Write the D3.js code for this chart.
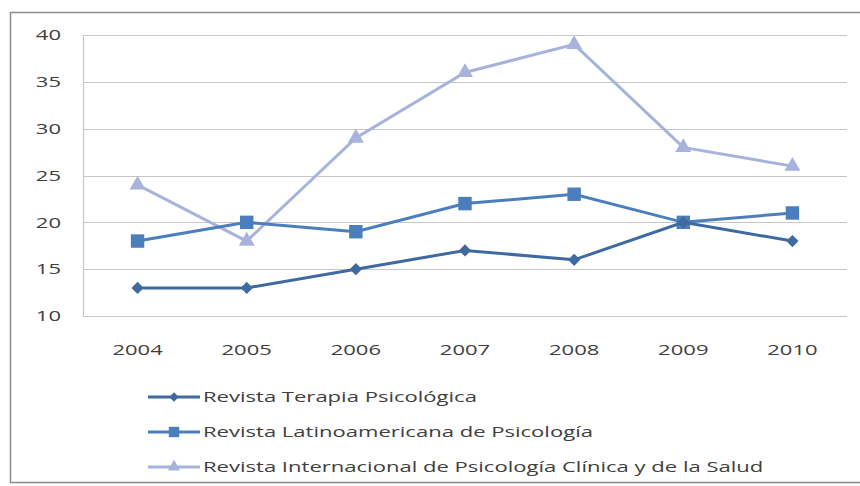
<!DOCTYPE html>
<html>
<head>
<meta charset="utf-8">
<script src="https://cdn.jsdelivr.net/npm/d3@7"></script>
<style>
  body { margin: 0; background: #fff; }
  svg text { font-family: "Open Sans", "DejaVu Sans", sans-serif; fill: #404040; }
</style>
</head>
<body>
<svg id="chart" width="860" height="486"></svg>
<script>
// Data
const years = ["2004", "2005", "2006", "2007", "2008", "2009", "2010"];
const terapia = [13, 13, 15, 17, 16, 20, 18];
const latino = [18, 20, 19, 22, 23, 20, 21];
const internacional = [24, 18, 29, 36, 39, 28, 26];
const yTicks = [10, 15, 20, 25, 30, 35, 40];
const seriesNames = [
    "Revista Terapia Psicológica",
    "Revista Latinoamericana de Psicología",
    "Revista Internacional de Psicología Clínica y de la Salud"
];

const svg = d3.select("#chart");
const stretch = 1.47; // the original picture is stretched sideways

// outer chart frame
svg.append("rect")
    .attr("x", 10.5).attr("y", 12.5)
    .attr("width", 860).attr("height", 470)
    .attr("fill", "#fff")
    .attr("stroke", "#8c8c8c")
    .attr("stroke-width", 1.5);

const plot = { left: 83, right: 847, top: 35, bottom: 316 };

const x = d3.scalePoint()
    .domain(years)
    .range([plot.left, plot.right])
    .padding(0.5);

const y = d3.scaleLinear()
    .domain([10, 40])
    .range([plot.bottom, plot.top]);

// gridlines
svg.append("g")
    .selectAll("line")
    .data(yTicks)
    .join("line")
    .attr("x1", plot.left).attr("x2", plot.right)
    .attr("y1", d => Math.round(y(d)) + 0.5)
    .attr("y2", d => Math.round(y(d)) + 0.5)
    .attr("stroke", "#c6c6c6")
    .attr("stroke-width", 1.2);

// vertical axis line
svg.append("line")
    .attr("x1", plot.left + 0.5).attr("x2", plot.left + 0.5)
    .attr("y1", plot.top).attr("y2", plot.bottom)
    .attr("stroke", "#c6c6c6")
    .attr("stroke-width", 1.2);

// y labels
svg.append("g")
    .selectAll("text")
    .data(yTicks)
    .join("text")
    .attr("transform", d => `translate(61,${y(d)}) scale(${stretch},1)`)
    .attr("dy", "0.35em")
    .attr("text-anchor", "end")
    .style("font-size", "15px")
    .text(d => d);

// x labels
svg.append("g")
    .selectAll("text")
    .data(years)
    .join("text")
    .attr("transform", d => `translate(${x(d)},350) scale(${stretch},1)`)
    .attr("dy", "0.35em")
    .attr("text-anchor", "middle")
    .style("font-size", "15px")
    .text(d => d);

const series = [
    { name: seriesNames[0], values: terapia, color: "#3e6aa0", symbol: d3.symbolSquare, size: 75, rotate: 45 },
    { name: seriesNames[1], values: latino, color: "#4a7ebd", symbol: d3.symbolSquare, size: 180, rotate: 0 },
    { name: seriesNames[2], values: internacional, color: "#a8b3dc", symbol: d3.symbolTriangle, size: 110, rotate: 0 }
];

const line = d3.line()
    .x((d, i) => x(years[i]))
    .y(d => y(d));

// draw in reverse so dark series are on top
series.slice().reverse().forEach(s => {
    svg.append("path")
        .datum(s.values)
        .attr("d", line)
        .attr("fill", "none")
        .attr("stroke", s.color)
        .attr("stroke-width", 3);

    svg.append("g")
        .selectAll("path")
        .data(s.values)
        .join("path")
        .attr("d", d3.symbol().type(s.symbol).size(s.size))
        .attr("transform", (d, i) => `translate(${x(years[i])},${y(d)}) rotate(${s.rotate})`)
        .attr("fill", s.color);
});

// legend
const legend = svg.append("g");
series.forEach((s, i) => {
    const ly = 397 + i * 35;
    legend.append("line")
        .attr("x1", 148).attr("x2", 200)
        .attr("y1", ly).attr("y2", ly)
        .attr("stroke", s.color)
        .attr("stroke-width", 3);
    legend.append("path")
        .attr("d", d3.symbol().type(s.symbol).size(s.size * 0.6))
        .attr("transform", `translate(174,${ly}) rotate(${s.rotate})`)
        .attr("fill", s.color);
    legend.append("text")
        .attr("transform", `translate(203,${ly}) scale(${stretch},1)`)
        .attr("dy", "0.35em")
        .style("font-size", "15px")
        .text(s.name);
});
</script>
</body>
</html>
